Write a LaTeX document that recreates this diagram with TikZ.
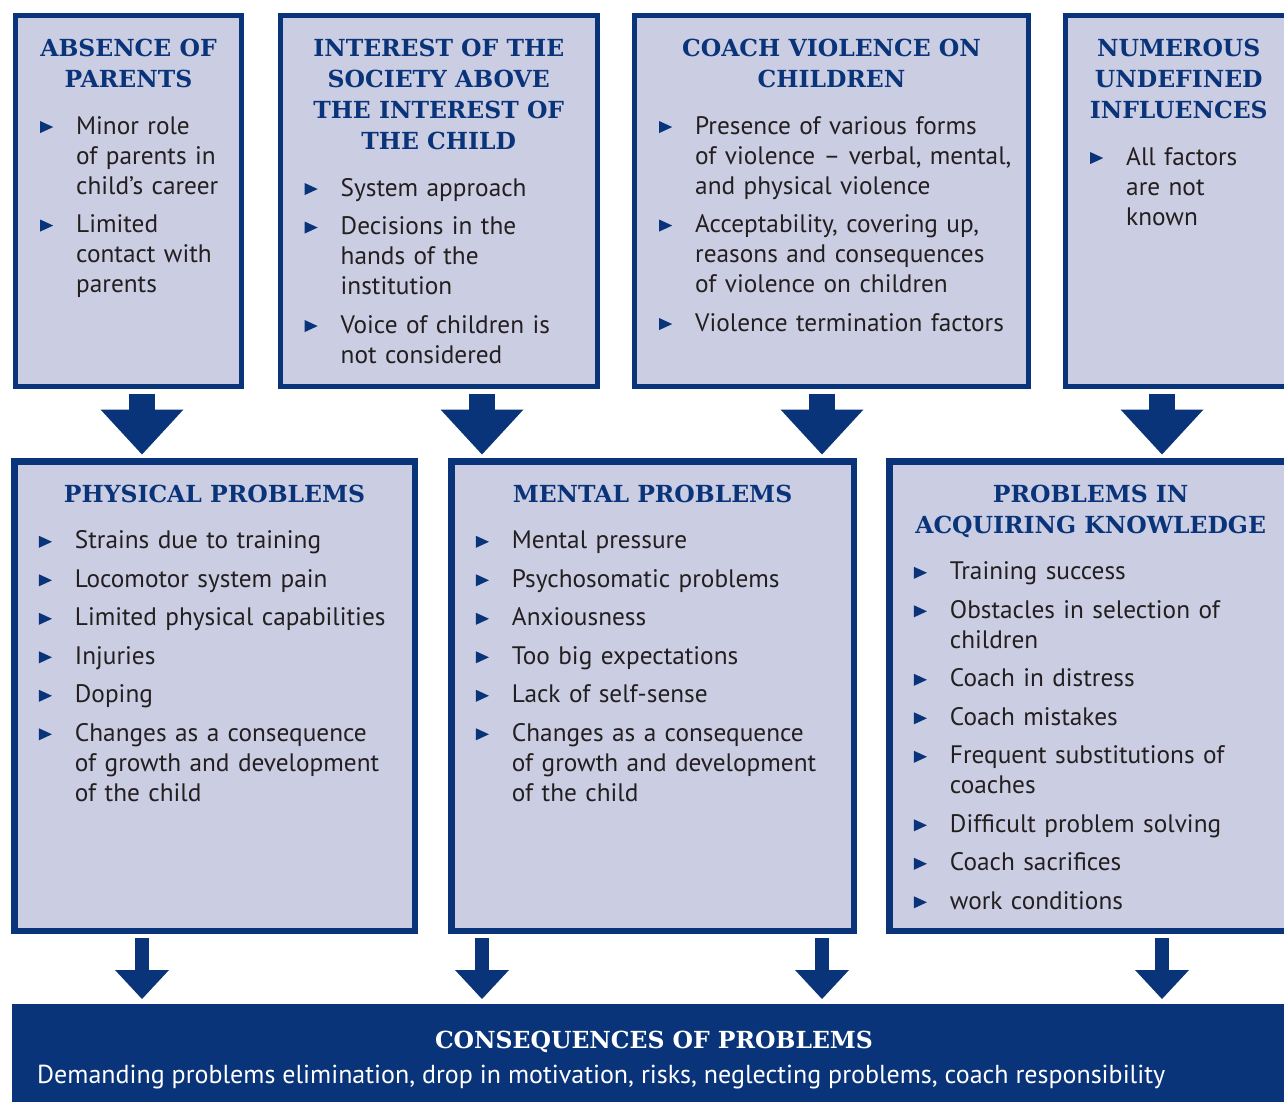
\documentclass[tikz,border=0pt]{standalone}
\usepackage{fontspec}
\usepackage{enumitem}
\usetikzlibrary{positioning,arrows.meta}
\newfontfamily\bodyfont{PT Sans}
\newfontfamily\titlefont{DejaVu Serif}
\definecolor{navy}{HTML}{0A3479}
\definecolor{lilac}{HTML}{CBCDE3}
\definecolor{ink}{HTML}{231F20}
% bullet of the lists
\newcommand{\tri}{\tikz[baseline=0pt]\fill[navy] (0pt,1pt) -- (0pt,13pt) -- (13pt,7pt) -- cycle;}
\newlist{factors}{itemize}{1}
\setlist[factors]{label=\tri, nosep, itemsep=8.5pt, leftmargin=36pt, labelwidth=13pt, labelsep=23pt, align=left}

\begin{document}
\begin{tikzpicture}[x=1pt, y=-1pt,
    box/.style={draw=navy, fill=lilac, outer sep=0pt, inner sep=0pt, anchor=north west},
    upper/.style={box, line width=5pt, minimum height=371pt},
    lower/.style={box, line width=6.5pt, minimum height=469.5pt},
    ttl/.style={text=navy, font=\titlefont\bfseries\fontsize{23.5}{31}\selectfont, align=center, inner sep=0pt, text depth=0pt, anchor=north},
    lst/.style={text=ink, font=\bodyfont\fontsize{25.3}{30}\selectfont, text width=420pt, align=left, inner sep=0pt, anchor=north west},
    bigarrow/.style={navy, line width=26pt, -{Triangle[width=83pt, length=45pt, line width=0pt]}},
    smallarrow/.style={navy, line width=14pt, -{Triangle[width=54pt, length=29pt, line width=0pt]}}]
    \useasboundingbox (0,0) rectangle (1284,1101);
    \clip (0,0) rectangle (1284,1101);

    % Upper row: causes
    \node[upper, minimum width=226pt] (b1) at (15.5,15.5) {};
    \node[upper, minimum width=317.5pt] (b2) at (280,15.5) {};
    \node[upper, minimum width=394pt] (b3) at (634.5,15.5) {};
    \node[upper, minimum width=226.5pt] (b4) at (1065.5,15.5) {};

    \node[ttl, below=23.5pt of b1.north] (t1) {ABSENCE OF\\PARENTS};
    \node[ttl, below=23.5pt of b2.north] (t2) {INTEREST OF THE\\SOCIETY ABOVE\\THE INTEREST OF\\THE CHILD};
    \node[ttl, below=23.5pt of b3.north] (t3) {COACH VIOLENCE ON\\CHILDREN};
    \node[ttl, below=23.5pt of b4.north] (t4) {NUMEROUS\\UNDEFINED\\INFLUENCES};

    \node[lst] (l1) at ([xshift=24.5pt, yshift=-16pt]t1.south -| b1.west) {\begin{factors}
        \item Minor role\\of parents in\\child’s career
        \item Limited\\contact with\\parents
    \end{factors}};
    \node[lst] (l2) at ([xshift=24.5pt, yshift=-16pt]t2.south -| b2.west) {\begin{factors}
        \item System approach
        \item Decisions in the\\hands of the\\institution
        \item Voice of children is\\not considered
    \end{factors}};
    \node[lst] (l3) at ([xshift=24.5pt, yshift=-16pt]t3.south -| b3.west) {\begin{factors}
        \item Presence of various forms\\of violence – verbal, mental,\\and physical violence
        \item Acceptability, covering up,\\reasons and consequences\\of violence on children
        \item Violence termination factors
    \end{factors}};
    \node[lst] (l4) at ([xshift=24.5pt, yshift=-16pt]t4.south -| b4.west) {\begin{factors}
        \item All factors\\are not\\known
    \end{factors}};

    % Lower row: problems
    \node[lower, minimum width=400.5pt] (b5) at (14.25,461.25) {};
    \node[lower, minimum width=402.5pt] (b6) at (451.25,461.25) {};
    \node[lower, minimum width=402.75pt] (b7) at (889.25,461.25) {};

    \node[ttl, below=23.5pt of b5.north] (t5) {PHYSICAL PROBLEMS};
    \node[ttl, below=23.5pt of b6.north] (t6) {MENTAL PROBLEMS};
    \node[ttl, below=23.5pt of b7.north] (t7) {PROBLEMS IN\\ACQUIRING KNOWLEDGE};

    \node[lst] (l5) at ([xshift=24.5pt, yshift=-16pt]t5.south -| b5.west) {\begin{factors}
        \item Strains due to training
        \item Locomotor system pain
        \item Limited physical capabilities
        \item Injuries
        \item Doping
        \item Changes as a consequence\\of growth and development\\of the child
    \end{factors}};
    \node[lst] (l6) at ([xshift=24.5pt, yshift=-16pt]t6.south -| b6.west) {\begin{factors}
        \item Mental pressure
        \item Psychosomatic problems
        \item Anxiousness
        \item Too big expectations
        \item Lack of self-sense
        \item Changes as a consequence\\of growth and development\\of the child
    \end{factors}};
    \node[lst] (l7) at ([xshift=24.5pt, yshift=-16pt]t7.south -| b7.west) {\begin{factors}
        \item Training success
        \item Obstacles in selection of\\children
        \item Coach in distress
        \item Coach mistakes
        \item Frequent substitutions of\\coaches
        \item Difficult problem solving
        \item Coach sacrifices
        \item work conditions
    \end{factors}};

    % Bottom bar
    \node[fill=navy, outer sep=0pt, inner sep=0pt, minimum width=1284pt, minimum height=100pt, anchor=north west] (bar) at (12,1004) {};
    \node[ttl, text=white, below=27pt of bar.north] (bt) {CONSEQUENCES OF PROBLEMS};
    \node[text=white, font=\bodyfont\fontsize{26}{30}\selectfont, inner sep=0pt, anchor=base west] (bb) at ([xshift=25pt, yshift=-79pt]bar.north west) {Demanding problems elimination, drop in motivation, risks, neglecting problems, coach responsibility};

    % Arrows
    \foreach \x/\s/\t in {142/b1/b5, 482/b2/b6, 822/b3/b6, 1162/b4/b7}
        \draw[bigarrow] ([yshift=-7.5pt]\x,0 |- \s.south) -- ([yshift=6.75pt]\x,0 |- \t.north);
    \foreach \x/\s in {142/b5, 482/b6, 822/b6, 1162/b7}
        \draw[smallarrow] ([yshift=-7.25pt]\x,0 |- \s.south) -- ([yshift=5pt]\x,0 |- bar.north);
\end{tikzpicture}
\end{document}
